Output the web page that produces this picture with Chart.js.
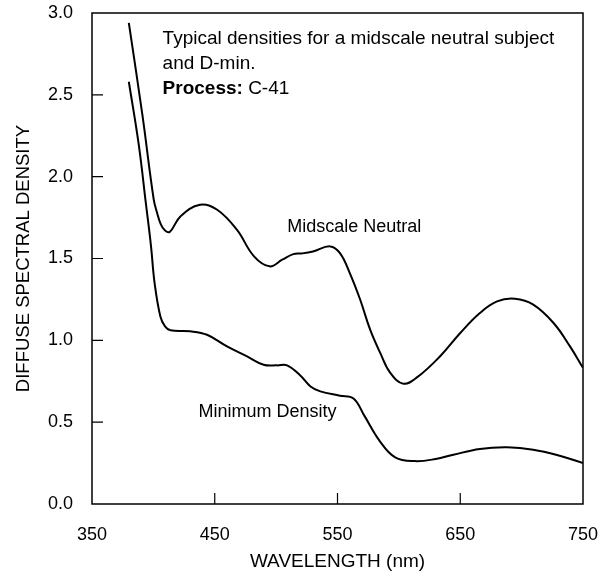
<!DOCTYPE html>
<html>
<head>
<meta charset="utf-8">
<script src="https://cdn.jsdelivr.net/npm/chart.js@4.4.1/dist/chart.umd.min.js"></script>
<style>
  html, body { margin: 0; padding: 0; background: #fff; }
  #wrap { width: 613px; height: 576px; }
</style>
</head>
<body>
<div id="wrap"><canvas id="densityChart" width="613" height="576"></canvas></div>
<script>
// wavelengths (nm) and densities
var neutralNm = [380, 391, 400.3, 403, 406, 409, 413.3, 422, 438, 452, 468, 482, 494.7, 505, 514, 521, 530, 544, 552, 560, 568.5, 576.6, 584.8, 593, 603.7, 615, 634, 650, 666, 680, 694.6, 709.5, 726, 739.4, 750];
var neutralD = [2.94, 2.38, 1.86, 1.78, 1.71, 1.675, 1.662, 1.757, 1.829, 1.798, 1.676, 1.513, 1.452, 1.493, 1.527, 1.531, 1.543, 1.574, 1.533, 1.411, 1.248, 1.065, 0.923, 0.801, 0.735, 0.775, 0.906, 1.045, 1.167, 1.238, 1.254, 1.218, 1.106, 0.963, 0.832];

var dminNm = [380, 388, 394, 398, 401, 405.7, 409.5, 413.9, 430, 443.7, 460, 476.3, 489.8, 500.7, 508.9, 519.7, 528, 536, 552, 563, 571.6, 584.3, 597, 613, 630, 644.4, 666, 688, 709.5, 731, 750];
var dminD = [2.58, 2.20, 1.83, 1.58, 1.35, 1.146, 1.085, 1.061, 1.055, 1.034, 0.963, 0.902, 0.851, 0.847, 0.847, 0.785, 0.718, 0.688, 0.662, 0.645, 0.543, 0.386, 0.285, 0.262, 0.275, 0.301, 0.336, 0.346, 0.332, 0.295, 0.25];

var xTicks = [350, 450, 550, 650, 750];
var yTicks = [0, 0.5, 1.0, 1.5, 2.0, 2.5, 3.0];

var fontName = "'Liberation Sans', Arial, Helvetica, sans-serif";

function toPoints(xs, ys) {
  var pts = [];
  for (var i = 0; i < xs.length; i++) {
    pts.push({ x: xs[i], y: ys[i] });
  }
  return pts;
}

// frame, inward ticks and the text notes
var framePlugin = {
  id: "frame",
  afterDraw: function(chart) {
    var ctx = chart.ctx;
    var a = chart.chartArea;
    var xs = chart.scales.x;
    var ys = chart.scales.y;
    ctx.save();
    ctx.strokeStyle = "#000";
    ctx.lineWidth = 1.5;
    ctx.strokeRect(a.left, a.top, a.right - a.left, a.bottom - a.top);
    ctx.lineWidth = 1.2;
    ctx.beginPath();
    xTicks.forEach(function(v) {
      if (v == 350 || v == 750) return;
      var px = xs.getPixelForValue(v);
      ctx.moveTo(px, a.bottom);
      ctx.lineTo(px, a.bottom - 11);
    });
    yTicks.forEach(function(v) {
      if (v == 0 || v == 3) return;
      var py = ys.getPixelForValue(v);
      ctx.moveTo(a.left, py);
      ctx.lineTo(a.left + 11, py);
    });
    ctx.stroke();

    ctx.fillStyle = "#000";
    ctx.textBaseline = "alphabetic";
    ctx.textAlign = "left";
    ctx.font = "19px " + fontName;
    var nx = xs.getPixelForValue(407.5);
    ctx.fillText("Typical densities for a midscale neutral subject", nx, ys.getPixelForValue(2.813));
    ctx.fillText("and D-min.", nx, ys.getPixelForValue(2.66));
    ctx.font = "bold 19px " + fontName;
    ctx.fillText("Process:", nx, ys.getPixelForValue(2.507));
    var w = ctx.measureText("Process: ").width;
    ctx.font = "19px " + fontName;
    ctx.fillText("C-41", nx + w, ys.getPixelForValue(2.507));

    ctx.font = "18px " + fontName;
    ctx.fillText("Midscale Neutral", xs.getPixelForValue(509), ys.getPixelForValue(1.663));
    ctx.fillText("Minimum Density", xs.getPixelForValue(436.7), ys.getPixelForValue(0.533));
    ctx.restore();
  }
};

var ctx = document.getElementById("densityChart").getContext("2d");
var densityChart = new Chart(ctx, {
  type: "scatter",
  data: {
    datasets: [
      {
        label: "Midscale Neutral",
        data: toPoints(neutralNm, neutralD),
        showLine: true,
        borderColor: "#000",
        borderWidth: 2,
        pointRadius: 0,
        tension: 0.4
      },
      {
        label: "Minimum Density",
        data: toPoints(dminNm, dminD),
        showLine: true,
        borderColor: "#000",
        borderWidth: 2,
        pointRadius: 0,
        tension: 0.4
      }
    ]
  },
  options: {
    responsive: false,
    animation: false,
    layout: { padding: { top: 13, right: 30, left: 0, bottom: 0 } },
    plugins: {
      legend: { display: false },
      tooltip: { enabled: false }
    },
    scales: {
      x: {
        type: "linear",
        min: 350,
        max: 750,
        afterBuildTicks: function(s) {
          s.ticks = xTicks.map(function(v) { return { value: v }; });
        },
        afterFit: function(s) {
          s.height = 72;
          s.paddingLeft = 0;
          s.paddingRight = 0;
        },
        grid: { display: false, drawTicks: false },
        border: { display: false },
        ticks: {
          color: "#000",
          padding: 20,
          maxRotation: 0,
          font: { family: fontName, size: 18 }
        },
        title: {
          display: true,
          text: "WAVELENGTH (nm)",
          color: "#000",
          font: { family: fontName, size: 19 },
          padding: { top: 0, bottom: 3 }
        }
      },
      y: {
        min: 0,
        max: 3,
        afterBuildTicks: function(s) {
          s.ticks = yTicks.map(function(v) { return { value: v }; });
        },
        afterFit: function(s) {
          s.width = 92;
          s.paddingTop = 0;
          s.paddingBottom = 0;
        },
        grid: { display: false, drawTicks: false },
        border: { display: false },
        ticks: {
          color: "#000",
          padding: 19,
          font: { family: fontName, size: 18 },
          callback: function(v) { return Number(v).toFixed(1); }
        },
        title: {
          display: true,
          text: "DIFFUSE SPECTRAL DENSITY",
          color: "#000",
          font: { family: fontName, size: 18.5 },
          padding: { top: 13, bottom: 0 }
        }
      }
    }
  },
  plugins: [framePlugin]
});
</script>
</body>
</html>
